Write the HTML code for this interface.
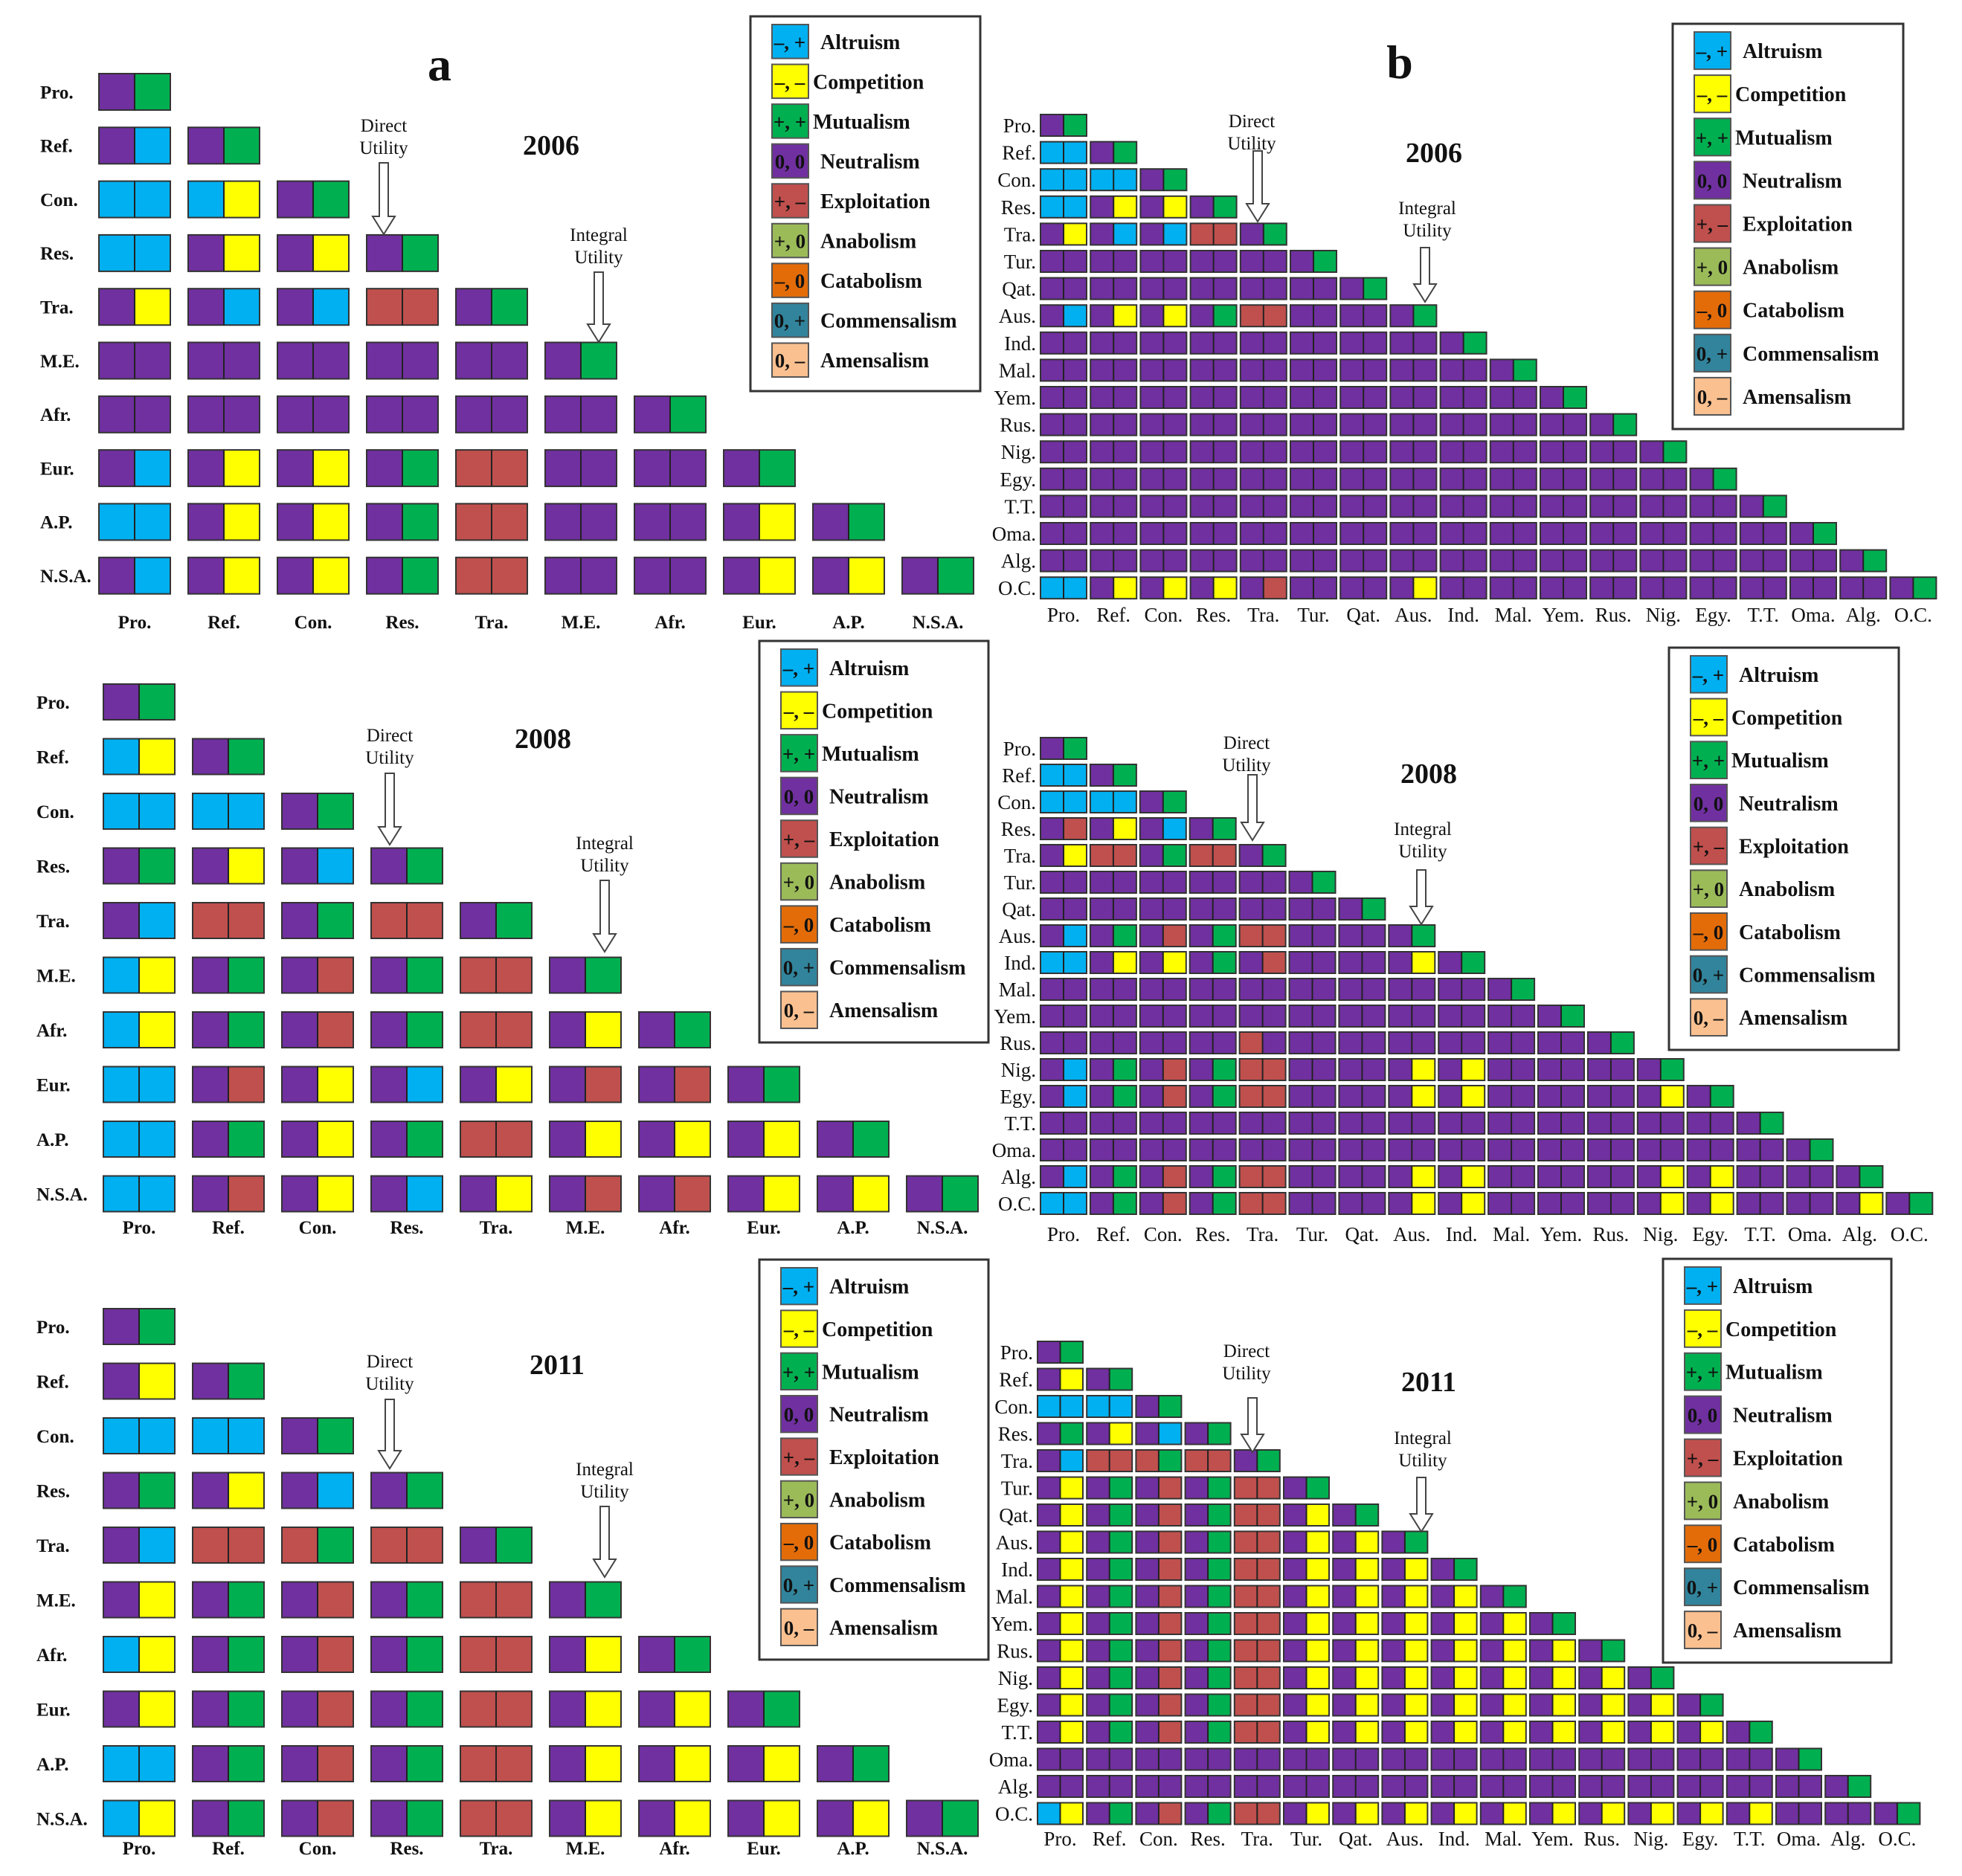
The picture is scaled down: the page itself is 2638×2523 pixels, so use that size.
<!DOCTYPE html>
<html><head><meta charset="utf-8"><style>
html,body{margin:0;padding:0;background:#fff;}
svg{display:block;font-family:"Liberation Serif",serif;}
</style></head><body>
<svg id="fig" width="2638" height="2523" viewBox="0 0 2638 2523" xmlns="http://www.w3.org/2000/svg">
<rect width="2638" height="2523" fill="#fff"/>
</svg>
<script>
// ---- category labels ----
const labelsA = ["Pro.","Ref.","Con.","Res.","Tra.","M.E.","Afr.","Eur.","A.P.","N.S.A."];
const labelsB = ["Pro.","Ref.","Con.","Res.","Tra.","Tur.","Qat.","Aus.","Ind.","Mal.","Yem.","Rus.","Nig.","Egy.","T.T.","Oma.","Alg.","O.C."];
// ---- cell data: each code = left half + right half colour ----
const a2006 = ["PG","PB PG","BB BY PG","BB PY PY PG","PY PB PB RR PG","PP PP PP PP PP PG","PP PP PP PP PP PP PG","PB PY PY PG RR PP PP PG","BB PY PY PG RR PP PP PY PG","PB PY PY PG RR PP PP PY PY PG"];
const a2008 = ["PG","BY PG","BB BB PG","PG PY PB PG","PB RR PG RR PG","BY PG PR PG RR PG","BY PG PR PG RR PY PG","BB PR PY PB PY PR PR PG","BB PG PY PG RR PY PY PY PG","BB PR PY PB PY PR PR PY PY PG"];
const a2011 = ["PG","PY PG","BB BB PG","PG PY PB PG","PB RR RG RR PG","PY PG PR PG RR PG","BY PG PR PG RR PY PG","PY PG PR PG RR PY PY PG","BB PG PR PG RR PY PY PY PG","BY PG PR PG RR PY PY PY PY PG"];
const b2006 = ["PG","BB PG","BB BB PG","BB PY PY PG","PY PB PB RR PG",
"PP PP PP PP PP PG","PP PP PP PP PP PP PG","PB PY PY PG RR PP PP PG",
"PP PP PP PP PP PP PP PP PG","PP PP PP PP PP PP PP PP PP PG","PP PP PP PP PP PP PP PP PP PP PG",
"PP PP PP PP PP PP PP PP PP PP PP PG","PP PP PP PP PP PP PP PP PP PP PP PP PG","PP PP PP PP PP PP PP PP PP PP PP PP PP PG",
"PP PP PP PP PP PP PP PP PP PP PP PP PP PP PG","PP PP PP PP PP PP PP PP PP PP PP PP PP PP PP PG","PP PP PP PP PP PP PP PP PP PP PP PP PP PP PP PP PG",
"BB PY PY PY PR PP PP PY PP PP PP PP PP PP PP PP PP PG"];
const b2008 = ["PG","BB PG","BB BB PG","PR PY PB PG","PY RR PG RR PG",
"PP PP PP PP PP PG","PP PP PP PP PP PP PG","PB PG PR PG RR PP PP PG","BB PY PY PG PR PP PP PY PG",
"PP PP PP PP PP PP PP PP PP PG","PP PP PP PP PP PP PP PP PP PP PG","PP PP PP PP RP PP PP PP PP PP PP PG",
"PB PG PR PG RR PP PP PY PY PP PP PP PG","PB PG PR PG RR PP PP PY PY PP PP PP PY PG",
"PP PP PP PP PP PP PP PP PP PP PP PP PP PP PG","PP PP PP PP PP PP PP PP PP PP PP PP PP PP PP PG",
"PB PG PR PG RR PP PP PY PY PP PP PP PY PY PP PP PG","BB PG PR PG RR PP PP PY PY PP PP PP PY PY PP PP PY PG"];
const b2011 = ["PG","PY PG","BB BB PG","PG PY PB PG","PB RR RG RR PG",
"PY PG PR PG RR PG","PY PG PR PG RR PY PG","PY PG PR PG RR PY PY PG","PY PG PR PG RR PY PY PY PG",
"PY PG PR PG RR PY PY PY PY PG","PY PG PR PG RR PY PY PY PY PY PG","PY PG PR PG RR PY PY PY PY PY PY PG",
"PY PG PR PG RR PY PY PY PY PY PY PY PG","PY PG PR PG RR PY PY PY PY PY PY PY PY PG","PY PG PR PG RR PY PY PY PY PY PY PY PY PY PG",
"PP PP PP PP PP PP PP PP PP PP PP PP PP PP PP PG","PP PP PP PP PP PP PP PP PP PP PP PP PP PP PP PP PG",
"BY PG PR PG RR PY PY PY PY PY PY PY PY PY PY PP PP PG"];
// ---- legend ----
const legendNames = ["Altruism","Competition","Mutualism","Neutralism","Exploitation","Anabolism","Catabolism","Commensalism","Amensalism"];
const legendSigns = ["\u2013, +","\u2013, \u2013","+, +","0, 0","+, \u2013","+, 0","\u2013, 0","0, +","0, \u2013"];
const legendColors = ["#00B0F0","#FFFF00","#00B050","#7030A0","#C0504D","#9BBB59","#E36C09","#31849B","#FAC090"];
const COLORS = {P:"#7030A0",G:"#00B050",B:"#00B0F0",Y:"#FFFF00",R:"#C0504D"};

const NS="http://www.w3.org/2000/svg";
const svg=document.getElementById('fig');
function mk(tag,attrs,parent){const e=document.createElementNS(NS,tag);for(const k in attrs)e.setAttribute(k,attrs[k]);(parent||svg).appendChild(e);return e;}
function txt(x,y,s,size,weight,anchor,parent){const t=mk('text',{x:x,y:y,'font-size':size,'font-weight':weight||'normal','text-anchor':anchor||'middle',fill:'#111'},parent);t.textContent=s;return t;}

function drawMatrix(id,data,labels,cfg){
  const g=mk('g',{});
  
  
  const xs=i=>cfg.x0+i*cfg.sx, ys=i=>cfg.y0+i*cfg.sy;
  data.forEach((row,i)=>{
    row.split(' ').forEach((code,j)=>{
      const c=mk('g',{},g);
      
      
      const x=xs(j),y=ys(i),w=cfg.w,h=cfg.h;
      mk('rect',{x:x,y:y,width:w/2,height:h,fill:COLORS[code[0]]},c);
      mk('rect',{x:x+w/2,y:y,width:w/2,height:h,fill:COLORS[code[1]]},c);
      mk('rect',{x:x,y:y,width:w,height:h,fill:'none',stroke:'#333',"stroke-width":2},c);
      mk('line',{x1:x+w/2,y1:y,x2:x+w/2,y2:y+h,stroke:'#222',"stroke-width":2},c);
    });
    const rl=txt(cfg.rowAnchor==='end'?cfg.x0-6:cfg.rlx, ys(i)+cfg.h/2+cfg.fs*0.35, labels[i], cfg.fs, cfg.bold?'bold':'normal', cfg.rowAnchor||'start', g);
    
    
  });
  labels.forEach((l,j)=>{
    const cl=txt(xs(j)+cfg.w/2, cfg.cly, l, cfg.fs, cfg.bold?'bold':'normal','middle',g);
    
    
  });
}
function arrow(x,y1,y2,name){
  const sw=6,hw=15,hh=24;
  const p=mk('polygon',{points:`${x-sw},${y1} ${x+sw},${y1} ${x+sw},${y2-hh} ${x+hw},${y2-hh} ${x},${y2} ${x-hw},${y2-hh} ${x-sw},${y2-hh}`,fill:'#fff',stroke:'#444',"stroke-width":2});
  
  
}
function annot(x,y,lines,fs,name){
  lines.forEach((l,k)=>{const t=txt(x,y+k*fs*1.2,l,fs,'normal','middle');
    
    });
}
function legend(x,y,w,h,name){
  const g=mk('g',{});
  
  
  mk('rect',{x:x,y:y,width:w,height:h,fill:'#fff',stroke:'#333',"stroke-width":3},g);
  const step=(h-22)/9;
  legendNames.forEach((n,k)=>{
    const e=mk('g',{},g);
    
    
    const sy=y+11+k*step;
    mk('rect',{x:x+29,y:sy,width:49,height:step-8,fill:legendColors[k],stroke:'#555',"stroke-width":2},e);
    txt(x+53,sy+(step-8)/2+10,legendSigns[k],27,'bold','middle',e);
    txt(x+(k===1||k===2?84:94),sy+(step-8)/2+10,n,28,'bold','start',e);
  });
}

// panel a
drawMatrix('matrix-a-2006',a2006,labelsA,{x0:133,y0:99,sx:120,sy:72.3,w:96,h:49,rlx:54,cly:845,fs:25,bold:true});
drawMatrix('matrix-a-2008',a2008,labelsA,{x0:139,y0:920,sx:120,sy:73.5,w:96,h:48,rlx:49,cly:1659,fs:25,bold:true});
drawMatrix('matrix-a-2011',a2011,labelsA,{x0:139,y0:1760,sx:120,sy:73.5,w:96,h:48,rlx:49,cly:2494,fs:25,bold:true});
// panel b
drawMatrix('matrix-b-2006',b2006,labelsB,{x0:1399,y0:154,sx:67.2,sy:36.6,w:62,h:29,rowAnchor:'end',cly:836,fs:27});
drawMatrix('matrix-b-2008',b2008,labelsB,{x0:1399,y0:992,sx:66.9,sy:36.0,w:62,h:29,rowAnchor:'end',cly:1669,fs:27});
drawMatrix('matrix-b-2011',b2011,labelsB,{x0:1395,y0:1804,sx:66.2,sy:36.5,w:61,h:29,rowAnchor:'end',cly:2482,fs:27});

// titles
let t;
t=txt(591,108,'a',64,'bold');
t=txt(1882,105,'b',64,'bold');
[[741,208,'2006'],[730,1006,'2008'],[749,1848,'2011'],[1928,218,'2006'],[1921,1053,'2008'],[1921,1871,'2011']].forEach(a=>{
  t=txt(a[0],a[1],a[2],38,'bold');});

// annotations + arrows
annot(516,177,['Direct','Utility'],25,'direct-utility-label'); arrow(516,219,315,'direct-utility-arrow');
annot(805,324,['Integral','Utility'],25,'integral-utility-label'); arrow(805,366,460,'integral-utility-arrow');
annot(524,997,['Direct','Utility'],25,'direct-utility-label'); arrow(524,1040,1136,'direct-utility-arrow');
annot(813,1142,['Integral','Utility'],25,'integral-utility-label'); arrow(813,1184,1280,'integral-utility-arrow');
annot(524,1839,['Direct','Utility'],25,'direct-utility-label'); arrow(524,1882,1975,'direct-utility-arrow');
annot(813,1984,['Integral','Utility'],25,'integral-utility-label'); arrow(813,2026,2121,'integral-utility-arrow');
annot(1683,171,['Direct','Utility'],25,'direct-utility-label'); arrow(1691,203,298,'direct-utility-arrow');
annot(1919,288,['Integral','Utility'],25,'integral-utility-label'); arrow(1916,333,406,'integral-utility-arrow');
annot(1676,1007,['Direct','Utility'],25,'direct-utility-label'); arrow(1684,1042,1130,'direct-utility-arrow');
annot(1913,1123,['Integral','Utility'],25,'integral-utility-label'); arrow(1911,1170,1243,'integral-utility-arrow');
annot(1676,1825,['Direct','Utility'],25,'direct-utility-label'); arrow(1684,1880,1953,'direct-utility-arrow');
annot(1913,1942,['Integral','Utility'],25,'integral-utility-label'); arrow(1911,1987,2060,'integral-utility-arrow');

// legends
legend(1009,22,309,504,'legend-a-2006');
legend(1021,862,308,540,'legend-a-2008');
legend(1021,1694,308,538,'legend-a-2011');
legend(2249,32,310,545,'legend-b-2006');
legend(2244,871,309,541,'legend-b-2008');
legend(2236,1693,307,543,'legend-b-2011');
</script>
</body></html>
